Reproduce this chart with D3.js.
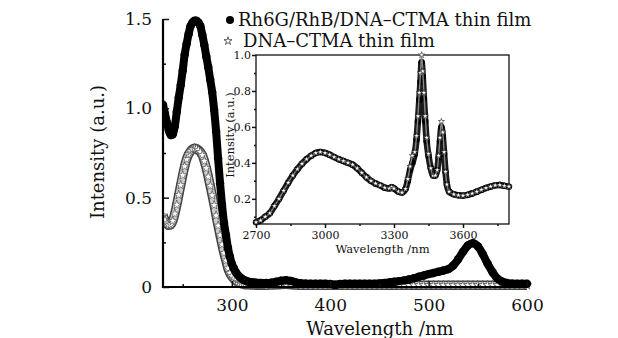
<!DOCTYPE html>
<html><head><meta charset="utf-8">
<script src="https://cdn.jsdelivr.net/npm/d3@7"></script>
<style>body{margin:0;background:#fff;} svg{display:block;}</style>
</head><body><svg id="c" width="618" height="338"></svg>
<script>
// ---------- data ----------
const mainWl = [230,232,234,236,238,240,242,244,246,248,
  250,252,254,256,258,260,262,264,266,268,
  270,272,274,276,278,280,282,284,286,288,
  290,292,294,296,298,300,302,304,306,308,
  310,312,314,316,318,320,322,324,326,328,330,
  335,340,345,350,355,360,365,370,375,380,
  385,390,395,400,405,410,415,420,425,430,
  435,440,445,450,455,460,465,470,475,480,
  485,490,495,500,505,510,515,520,525,530,
  535,540,545,550,555,560,565,570,575,580,
  585,590,595,600];
const rh6gMain = [1.02,0.97,0.92,0.875,0.85,0.855,0.90,0.98,1.06,1.13,
  1.21,1.30,1.36,1.415,1.46,1.48,1.49,1.49,1.48,1.46,
  1.41,1.355,1.29,1.23,1.16,1.09,0.99,0.87,0.72,0.58,
  0.46,0.36,0.29,0.22,0.17,0.13,0.105,0.083,0.068,0.056,
  0.047,0.04,0.035,0.031,0.028,0.026,0.025,0.024,0.023,0.022,0.022,
  0.022,0.024,0.029,0.035,0.038,0.034,0.026,0.021,0.019,0.018,
  0.018,0.018,0.018,0.017,0.012,0.017,0.018,0.018,0.018,0.018,
  0.018,0.018,0.018,0.02,0.022,0.025,0.029,0.033,0.037,0.042,
  0.049,0.057,0.064,0.072,0.078,0.085,0.092,0.10,0.12,0.155,
  0.197,0.233,0.245,0.228,0.184,0.13,0.083,0.047,0.03,0.022,
  0.019,0.018,0.018,0.018];
const dnaMain = [0.40,0.375,0.355,0.345,0.35,0.37,0.41,0.46,0.515,0.57,
  0.625,0.675,0.715,0.742,0.76,0.772,0.776,0.774,0.766,0.755,
  0.738,0.705,0.665,0.617,0.566,0.513,0.458,0.40,0.343,0.29,
  0.238,0.19,0.148,0.105,0.078,0.06,0.046,0.036,0.028,0.022,
  0.018,0.015,0.013,0.012,0.012,0.011,0.011,0.01,0.01,0.01,0.01,
  0.01,0.011,0.012,0.014,0.015,0.013,0.011,0.01,0.01,0.01,
  0.01,0.01,0.01,0.01,0.01,0.01,0.01,0.01,0.01,0.01,
  0.01,0.01,0.01,0.01,0.01,0.01,0.01,0.01,0.01,0.01,
  0.01,0.01,0.01,0.01,0.01,0.01,0.01,0.01,0.01,0.01,
  0.01,0.01,0.01,0.01,0.01,0.01,0.01,0.01,0.01,0.01,
  0.01,0.01,0.01,0.01];
const insetWl = [2700,2720,2740,2760,2780,2800,2820,2840,2860,2880,
  2900,2920,2940,2960,2980,3000,3020,3040,3060,3080,
  3100,3120,3140,3160,3180,3200,3220,3240,3260,3280,
  3290,3300,3320,3335,3350,3360,3370,3380,3390,
  3398,3404,3410,3415,3420,3425,3430,3436,3442,3450,
  3460,3470,3480,3488,3494,3500,3506,3512,3518,3524,
  3530,3540,3560,3580,3600,
  3620,3640,3660,3680,3700,3720,3740,3760,3780,3800];
const rh6gInset = [0.07,0.08,0.10,0.12,0.16,0.20,0.245,0.29,0.33,0.365,
  0.395,0.42,0.44,0.455,0.46,0.455,0.445,0.432,0.42,0.41,
  0.40,0.39,0.37,0.345,0.32,0.30,0.285,0.275,0.262,0.258,
  0.265,0.258,0.24,0.235,0.255,0.30,0.36,0.40,0.45,
  0.53,0.63,0.75,0.85,0.96,0.88,0.76,0.63,0.52,0.44,
  0.37,0.33,0.33,0.36,0.43,0.52,0.60,0.55,0.45,0.35,
  0.28,0.24,0.225,0.22,0.218,
  0.222,0.23,0.24,0.25,0.26,0.268,0.275,0.277,0.272,0.268];
const dnaInset = [0.07,0.08,0.10,0.12,0.16,0.20,0.245,0.29,0.33,0.365,
  0.395,0.42,0.44,0.455,0.46,0.455,0.445,0.432,0.42,0.41,
  0.40,0.39,0.37,0.345,0.32,0.30,0.285,0.275,0.262,0.258,
  0.265,0.258,0.24,0.235,0.255,0.31,0.38,0.44,0.46,
  0.55,0.66,0.79,0.90,1.00,0.91,0.79,0.66,0.54,0.45,
  0.37,0.33,0.33,0.36,0.44,0.54,0.63,0.57,0.46,0.35,
  0.28,0.24,0.225,0.22,0.218,
  0.222,0.23,0.24,0.25,0.26,0.268,0.275,0.277,0.272,0.268];
const mainXTicks = [300,400,500,600];
const mainXMinor = [250,350,450,550];
const mainYTicks = [0,0.5,1.0,1.5];
const mainYMinor = [0.25,0.75,1.25];
const insetXTicks = [2700,3000,3300,3600];
const insetXMinor = [2850,3150,3450,3750];
const insetYTicks = [0.2,0.4,0.6,0.8,1.0];
const insetYMinor = [0.1,0.3,0.5,0.7,0.9];
const legendLabels = ["Rh6G/RhB/DNA–CTMA thin film","DNA–CTMA thin film"];
const mainYFmt = ["0","0.5","1.0","1.5"];

// ---------- drawing ----------
const svg = d3.select("#c");
const serif = "'DejaVu Serif', serif";

const x = d3.scaleLinear().domain([230, 600]).range([163, 527]);
const y = d3.scaleLinear().domain([0, 1.5]).range([287, 19]);
const xi = d3.scaleLinear().domain([2700, 3800]).range([256, 509]);
const yi = d3.scaleLinear().domain([0.06, 1.0]).range([224, 55]);

svg.append("defs").append("clipPath").attr("id", "clipM")
  .append("rect").attr("x", x(230)).attr("y", 0).attr("width", 460).attr("height", 300);

// inset frame
svg.append("rect").attr("x", xi(2700)).attr("y", yi(1.0))
  .attr("width", xi(3800) - xi(2700)).attr("height", yi(0.06) - yi(1.0))
  .attr("fill", "#fff").attr("stroke", "#111").attr("stroke-width", 1.3);

function styleAxis(g, fs) {
  g.selectAll("text").attr("font-family", serif).attr("font-size", fs).attr("fill", "#111");
  g.selectAll("line").attr("stroke", "#111");
  g.select(".domain").remove();
}
// inset axes
const giy = svg.append("g").attr("transform", `translate(${xi(2700)},0)`)
  .call(d3.axisLeft(yi).tickValues(insetYTicks).tickFormat(d3.format(".1f")).tickSize(4).tickPadding(1));
styleAxis(giy, 11);
const giym = svg.append("g").attr("transform", `translate(${xi(2700)},0)`)
  .call(d3.axisLeft(yi).tickValues(insetYMinor).tickFormat("").tickSize(2));
styleAxis(giym, 11);
const gix = svg.append("g").attr("transform", `translate(0,${yi(0.06)})`)
  .call(d3.axisBottom(xi).tickValues(insetXTicks).tickFormat(d3.format("d")).tickSize(4).tickPadding(3));
styleAxis(gix, 11);
const gixm = svg.append("g").attr("transform", `translate(0,${yi(0.06)})`)
  .call(d3.axisBottom(xi).tickValues(insetXMinor).tickFormat("").tickSize(2));
styleAxis(gixm, 11);

svg.append("text").attr("x", (xi(2700) + xi(3800)) / 2).attr("y", 253)
  .attr("text-anchor", "middle").attr("font-family", serif).attr("font-size", 11.5)
  .attr("fill", "#111").text("Wavelength /nm");
svg.append("text").attr("transform", "translate(234,135) rotate(-90)")
  .attr("text-anchor", "middle").attr("font-family", serif).attr("font-size", 11.5)
  .attr("fill", "#111").text("Intensity (a.u.)");

// inset data
const inRh = insetWl.map((w, i) => [w, rh6gInset[i]]);
const inDn = insetWl.map((w, i) => [w, dnaInset[i]]);
const lineI = d3.line().x(d => xi(d[0])).y(d => yi(d[1])).curve(d3.curveMonotoneX);
svg.append("path").datum(inRh).attr("d", lineI).attr("fill", "none")
  .attr("stroke", "#1a1a1a").attr("stroke-width", 6.5);
svg.append("g").selectAll("circle").data(inRh).join("circle")
  .attr("cx", d => xi(d[0])).attr("cy", d => yi(d[1])).attr("r", 3.2).attr("fill", "#000");
svg.append("path").datum(inDn).attr("d", lineI).attr("fill", "none")
  .attr("stroke", "#888").attr("stroke-width", 1.4);
const starI = d3.symbol().type(d3.symbolStar).size(12);
svg.append("g").selectAll("path").data(inDn).join("path")
  .attr("transform", d => `translate(${xi(d[0])},${yi(d[1])})`).attr("d", starI)
  .attr("fill", "#fff").attr("stroke", "#222").attr("stroke-width", 0.6);

// main data (clipped at the y axis); stars first, circles on top
const mRh = mainWl.map((w, i) => [w, rh6gMain[i]]);
const mDn = mainWl.map((w, i) => [w, dnaMain[i]]);
const lineM = d3.line().x(d => x(d[0])).y(d => y(d[1])).curve(d3.curveMonotoneX);
const gm = svg.append("g").attr("clip-path", "url(#clipM)");

gm.append("path").datum(mDn).attr("d", lineM).attr("fill", "none")
  .attr("stroke", "#444").attr("stroke-width", 9.5);
gm.append("path").datum(mDn).attr("d", lineM).attr("fill", "none")
  .attr("stroke", "#ccc").attr("stroke-width", 6.5);
const starM = d3.symbol().type(d3.symbolStar).size(26);
gm.append("g").selectAll("path").data(mDn).join("path")
  .attr("transform", d => `translate(${x(d[0])},${y(d[1])})`).attr("d", starM)
  .attr("fill", "#fff").attr("stroke", "#333").attr("stroke-width", 0.6);

gm.append("path").datum(mRh).attr("d", lineM).attr("fill", "none")
  .attr("stroke", "#000").attr("stroke-width", 8);
gm.append("g").selectAll("circle").data(mRh).join("circle")
  .attr("cx", d => x(d[0])).attr("cy", d => y(d[1])).attr("r", 4.2).attr("fill", "#000");

// main axes
const gy = svg.append("g").attr("transform", `translate(${x(230)},0)`)
  .call(d3.axisLeft(y).tickValues(mainYTicks).tickFormat((d, i) => mainYFmt[i]).tickSize(-6).tickPadding(11));
styleAxis(gy, 17);
const gym = svg.append("g").attr("transform", `translate(${x(230)},0)`)
  .call(d3.axisLeft(y).tickValues(mainYMinor).tickFormat("").tickSize(-3));
styleAxis(gym, 17);
const gx = svg.append("g").attr("transform", `translate(0,${y(0)})`)
  .call(d3.axisBottom(x).tickValues(mainXTicks).tickFormat(d3.format("d")).tickSize(-6).tickPadding(12));
styleAxis(gx, 17);
const gxm = svg.append("g").attr("transform", `translate(0,${y(0)})`)
  .call(d3.axisBottom(x).tickValues(mainXMinor).tickFormat("").tickSize(-3));
styleAxis(gxm, 17);
svg.selectAll("g line").attr("stroke-width", 1.5);
svg.append("path").attr("d", `M${x(230)},${y(1.5)}V${y(0)}H${x(600)}`)
  .attr("fill", "none").attr("stroke", "#000").attr("stroke-width", 2.2);

svg.append("text").attr("x", 380).attr("y", 335).attr("text-anchor", "middle")
  .attr("font-family", serif).attr("font-size", 18).attr("fill", "#111").text("Wavelength /nm");
svg.append("text").attr("transform", "translate(104,152) rotate(-90)")
  .attr("text-anchor", "middle").attr("font-family", serif).attr("font-size", 18)
  .attr("fill", "#111").text("Intensity (a.u.)");

// legend
svg.append("circle").attr("cx", 230).attr("cy", 20).attr("r", 4).attr("fill", "#000");
svg.append("path").attr("transform", "translate(228,41)")
  .attr("d", d3.symbol().type(d3.symbolStar).size(20))
  .attr("fill", "#fff").attr("stroke", "#333").attr("stroke-width", 0.8);
svg.append("text").attr("x", 238).attr("y", 26).attr("font-family", serif)
  .attr("font-size", 18).attr("fill", "#111").text(legendLabels[0]);
svg.append("text").attr("x", 243).attr("y", 47).attr("font-family", serif)
  .attr("font-size", 18).attr("fill", "#111").text(legendLabels[1]);
</script></body></html>
